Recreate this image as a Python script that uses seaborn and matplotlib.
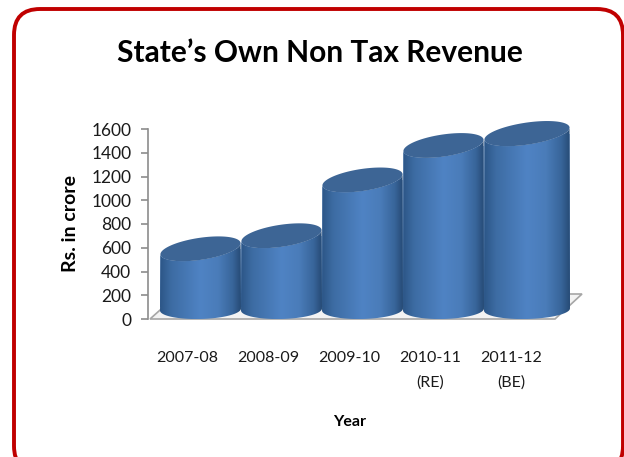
import numpy as np
import matplotlib
matplotlib.use("Agg")
import matplotlib.pyplot as plt
import seaborn as sns
from matplotlib.colors import LinearSegmentedColormap
from matplotlib.patches import FancyBboxPatch, PathPatch, Polygon
from matplotlib.path import Path
from matplotlib.transforms import Affine2D, IdentityTransform

years = ["2007-08", "2008-09", "2009-10", "2010-11\n(RE)", "2011-12\n(BE)"]
revenue = [490, 600, 1070, 1360, 1460]
yticks = [0, 200, 400, 600, 800, 1000, 1200, 1400, 1600]

W, H = 624, 457
sns.set_theme(style="white")
plt.rcParams["font.family"] = ["Lato", "DejaVu Sans"]
fig = plt.figure(figsize=(W / 100, H / 100), dpi=100, facecolor="white")

L, R, T, B = 148, 570, 129, 319
ax = fig.add_axes([L / W, 1 - B / H, (R - L) / W, (B - T) / H])
ax.patch.set_alpha(0)

sns.barplot(x=list(range(5)), y=revenue, width=1.0, color="#4F81BD",
            saturation=1, ax=ax, native_scale=True, zorder=2)
ax.set_xlim((L - 200.5) / 81, (R - 200.5) / 81)
ax.set_ylim(0, 1600)
ax.set_xlabel("")
ax.set_ylabel("")

# red rounded frame
frame = FancyBboxPatch((14, H - 472), 609, 463, boxstyle="round,pad=0,rounding_size=26",
                       transform=IdentityTransform(), fc="none", ec="#C00000", lw=2.8,
                       clip_on=False, zorder=0)
fig.add_artist(frame)

# floor of the 3D chart
floor = Polygon([(150, H - 319), (555, H - 319), (582, H - 294), (178, H - 294)],
                closed=True, transform=IdentityTransform(), fc="#F3F3F3", ec="#A6A6A6",
                lw=1.2, clip_on=False, zorder=1)
ax.add_patch(floor)

side = LinearSegmentedColormap.from_list(
    "cyl", [(0, "#2C5687"), (0.14, "#3D6CA3"), (0.5, "#4F83C4"), (0.72, "#4A7CB9"),
            (0.9, "#38659A"), (1, "#274B76")])
gradient = np.linspace(0, 1, 256).reshape(1, -1)


def ellipse_points(cx, cy, a, b, tilt, t):
    return (cx + a * np.cos(t) * np.cos(tilt) - b * np.sin(t) * np.sin(tilt),
            cy + a * np.cos(t) * np.sin(tilt) + b * np.sin(t) * np.cos(tilt))


depth_px = 12
base_depth = 9.5
tilt = np.radians(8.5)
base_tilt = np.radians(1.5)
b = 11
patches = list(ax.patches)
bars = [p for p in patches if p is not floor]
bars[-1].set_width(86 / 81)
for i, p in enumerate(bars):
    x0 = p.get_x()
    x1 = x0 + p.get_width()
    (dx0, dy0) = ax.transData.transform((x0, 0))
    (dx1, dy1) = ax.transData.transform((x1, p.get_height()))
    cx, a = (dx0 + dx1) / 2, (dx1 - dx0) / 2
    base_y, top_y = dy0 + base_depth, dy1 + depth_px
    t_low = np.linspace(np.pi, 2 * np.pi, 80)
    bx, by = ellipse_points(cx, base_y, a, 9.5, base_tilt, t_low)
    tx, ty = ellipse_points(cx, top_y, a, b, tilt, t_low[::-1])
    body = Path(np.vstack([np.column_stack([bx, by]), np.column_stack([tx, ty]),
                           [[bx[0], by[0]]]]), closed=True)
    # real bar moved up onto the floor, clipped to the cylinder body
    p.set_transform(ax.transData + Affine2D().translate(0, depth_px))
    p.set_edgecolor("none")
    p.set_clip_path(PathPatch(body, transform=IdentityTransform()))
    im = ax.imshow(gradient, cmap=side, aspect="auto", interpolation="bilinear",
                   extent=(dx0, dx1, dy0, dy1 + 40), transform=IdentityTransform(),
                   zorder=3 + i * 0.1)
    im.set_clip_path(PathPatch(body, transform=IdentityTransform()))
    t_full = np.linspace(0, 2 * np.pi, 160)
    ex, ey = ellipse_points(cx, top_y, a, b, tilt, t_full)
    ax.add_patch(Polygon(np.column_stack([ex, ey]), closed=True, fc="#3D6595", ec="none",
                         transform=IdentityTransform(), clip_on=False, zorder=3.05 + i * 0.1))

ax.set_xlim((L - 200.5) / 81, (R - 200.5) / 81)
ax.set_ylim(0, 1600)

sns.despine(ax=ax, top=True, right=True, bottom=True, left=False)
ax.spines["left"].set_color("#8C8C8C")
ax.spines["left"].set_linewidth(1.2)
ax.set_yticks(yticks)
ax.set_yticklabels([str(v) for v in yticks])
ax.tick_params(axis="y", length=5, width=1.2, color="#8C8C8C", left=True, pad=7,
               labelsize=12.5, labelcolor="#1a1a1a")
ax.set_xticks(np.arange(5) - 0.16)
ax.set_xticklabels(years, linespacing=1.95)
ax.tick_params(axis="x", length=0, pad=23, labelsize=11.5, labelcolor="#1a1a1a")

fig.text(320 / W, 1 - 53 / H, "State\u2019s Own Non Tax Revenue", ha="center", va="center",
         fontsize=21.5, fontweight="bold", color="black")
fig.text(350 / W, 1 - 422 / H, "Year", ha="center", va="center", fontsize=11.5,
         fontweight="bold", color="black")
fig.text(70 / W, 1 - 224 / H, "Rs. in crore", ha="center", va="center", rotation=90,
         fontsize=14, fontweight="bold", color="black")

fig.savefig("out.png", dpi=100)
